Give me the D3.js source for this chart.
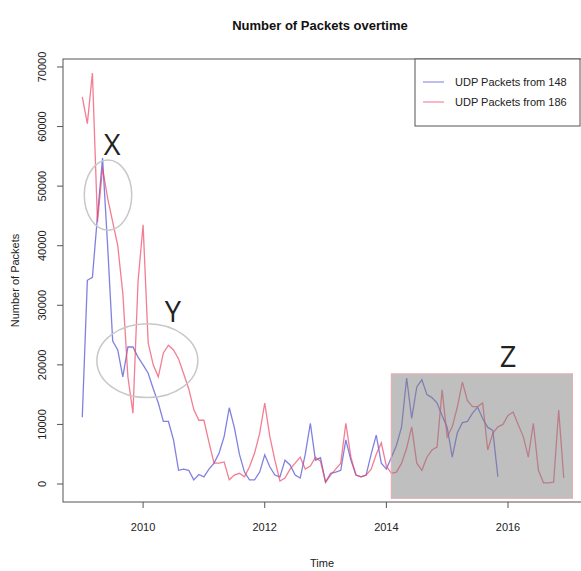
<!DOCTYPE html>
<html>
<head>
<meta charset="utf-8">
<script src="https://cdn.jsdelivr.net/npm/d3@7/dist/d3.min.js"></script>
<style>
  html, body { margin: 0; padding: 0; background: #fff; }
  svg { display: block; font-family: "Liberation Sans", Arial, sans-serif; }
</style>
</head>
<body>
<svg id="chart" width="581" height="571"></svg>
<script>
// ---- data (monthly, starting Jan 2009) ----
const startYear = 2009;
const seriesNames = ["UDP Packets from 148", "UDP Packets from 186"];
const udp148 = [
  11200, 34200, 34700, 45000, 54700, 40000, 24000, 22500, 18000, 23000, 23000, 21300,
  20000, 18600, 16000, 13600, 10500, 10500, 7400, 2300, 2500, 2300, 700, 1600,
  1200, 2500, 3500, 5200, 8000, 12800, 9500, 5000, 2000, 700, 700, 2000,
  4900, 2900, 1500, 1200, 4000, 3200, 1500, 1000, 5000, 10200, 4000, 4400,
  300, 1800, 2000, 2300, 7400, 4000, 1500, 1200, 1500, 5000, 8200, 3500,
  2500, 4500, 6500, 9600, 17800, 11000, 16300, 17500, 15000, 14500, 13600, 11500,
  9500, 4500, 8600, 10300, 10500, 11900, 12900, 11000, 9500, 9000, 1200
];
const udp186 = [
  65000, 60500, 69000, 44000, 53000, 48000, 44000, 40000, 32000, 18000, 11900, 34000,
  43500, 23700, 20000, 18000, 22000, 23300, 22500, 21000, 18500, 16000, 12500, 10700,
  10700, 7000, 3500, 3500, 3700, 700, 1500, 1800, 1200, 2900, 5200, 8500,
  13600, 8000, 4000, 500, 1000, 2500, 3500, 4500, 2500, 3000, 4500, 3800,
  300, 1500, 2500, 3500, 10200, 4500, 1500, 1200, 1500, 2500, 5000, 6900,
  3000, 1800, 2000, 3500, 6000, 9600, 3500, 2300, 4500, 5700, 6200, 15800,
  7900, 9600, 12900, 17100, 14000, 13000, 13000, 13600, 5700, 8500, 9600, 10000,
  11500, 12100, 10000, 8000, 4500, 10200, 2300, 200, 200, 300, 12400, 1000
];
const xTicks = [2010, 2012, 2014, 2016];
const yTicks = [0, 10000, 20000, 30000, 40000, 50000, 60000, 70000];
// annotations in data units: [xCenter, yCenter, xRadius(years), yRadius(packets)]
const ellipseX = [2009.423, 48500, 0.39, 5900];
const ellipseY = [2010.07, 20700, 0.83, 6200];
const labelPos = [["X", 2009.49, 57200], ["Y", 2010.49, 29200], ["Z", 2016.0, 21600]];
const zoneZ = [2014.08, 2017.06, -2400, 18500]; // x0, x1, y0, y1

// ---- layout ----
const svg = d3.select("#chart");
const L = 63, R = 583, T = 59, B = 502;
const x = d3.scaleLinear().domain([2008.683, 2017.233]).range([L, R]);
const y = d3.scaleLinear().domain([-3020, 71340]).range([B, T]);

const toPts = arr => arr.map((v, i) => [startYear + i / 12, v]);
const line = d3.line().x(d => x(d[0])).y(d => y(d[1]));

// lines
svg.append("path").datum(toPts(udp148))
  .attr("d", line).attr("fill", "none")
  .attr("stroke", "rgb(85,85,215)").attr("stroke-opacity", 0.75).attr("stroke-width", 1.3);
svg.append("path").datum(toPts(udp186))
  .attr("d", line).attr("fill", "none")
  .attr("stroke", "rgb(238,70,100)").attr("stroke-opacity", 0.7).attr("stroke-width", 1.3);

// highlighted zone Z (drawn on top, translucent grey)
svg.append("rect")
  .attr("x", x(zoneZ[0])).attr("y", y(zoneZ[3]))
  .attr("width", x(zoneZ[1]) - x(zoneZ[0]))
  .attr("height", y(zoneZ[2]) - y(zoneZ[3]))
  .attr("fill", "rgb(128,128,128)").attr("fill-opacity", 0.5)
  .attr("stroke", "rgb(235,170,180)").attr("stroke-width", 1);

// ellipses
[ellipseX, ellipseY].forEach(e => {
  svg.append("ellipse")
    .attr("cx", x(e[0])).attr("cy", y(e[1]))
    .attr("rx", x(e[0] + e[2]) - x(e[0]))
    .attr("ry", y(e[1] - e[3]) - y(e[1]))
    .attr("fill", "none").attr("stroke", "#c8c8c8").attr("stroke-width", 1.5);
});

// big letters
labelPos.forEach(p => {
  svg.append("text").attr("x", x(p[1])).attr("y", y(p[2]))
    .attr("text-anchor", "middle").attr("dominant-baseline", "central")
    .attr("font-family", "'Open Sans', 'DejaVu Sans', sans-serif")
    .attr("font-size", 29).attr("fill", "#222").text(p[0]);
});

// plot box
svg.append("rect").attr("x", L).attr("y", T).attr("width", R - L).attr("height", B - T)
  .attr("fill", "none").attr("stroke", "#555").attr("stroke-width", 1);

// x axis
const xa = svg.append("g");
xTicks.forEach(t => {
  xa.append("line").attr("x1", x(t)).attr("x2", x(t)).attr("y1", B).attr("y2", B + 6)
    .attr("stroke", "#555");
  xa.append("text").attr("x", x(t)).attr("y", B + 29).attr("text-anchor", "middle")
    .attr("font-size", 11).attr("fill", "#222").text(t);
});
// y axis
const ya = svg.append("g");
yTicks.forEach(t => {
  ya.append("line").attr("x1", L - 6).attr("x2", L).attr("y1", y(t)).attr("y2", y(t))
    .attr("stroke", "#555");
  ya.append("text").attr("transform", `translate(${L - 17},${y(t)}) rotate(-90)`)
    .attr("text-anchor", "middle").attr("font-size", 11).attr("fill", "#222").text(t);
});

// titles
svg.append("text").attr("x", 320).attr("y", 30).attr("text-anchor", "middle")
  .attr("font-size", 13).attr("font-weight", "bold").attr("fill", "#111")
  .text("Number of Packets overtime");
svg.append("text").attr("x", 322).attr("y", 567).attr("text-anchor", "middle")
  .attr("font-size", 11).attr("fill", "#222").text("Time");
svg.append("text").attr("transform", `translate(19,${(T + B) / 2}) rotate(-90)`)
  .attr("text-anchor", "middle").attr("font-size", 11).attr("fill", "#222")
  .text("Number of Packets");

// legend
const lg = svg.append("g");
lg.append("rect").attr("x", 415).attr("y", T).attr("width", 165).attr("height", 67)
  .attr("fill", "#fff").attr("stroke", "#555").attr("stroke-width", 1);
const legColors = ["rgb(85,85,215)", "rgb(238,70,100)"];
seriesNames.forEach((n, i) => {
  const yy = 82 + i * 20;
  lg.append("line").attr("x1", 423).attr("x2", 444).attr("y1", yy).attr("y2", yy)
    .attr("stroke", legColors[i]).attr("stroke-opacity", 0.6).attr("stroke-width", 1.3);
  lg.append("text").attr("x", 455).attr("y", yy + 4).attr("font-size", 11)
    .attr("fill", "#222").text(n);
});
</script>
</body>
</html>
